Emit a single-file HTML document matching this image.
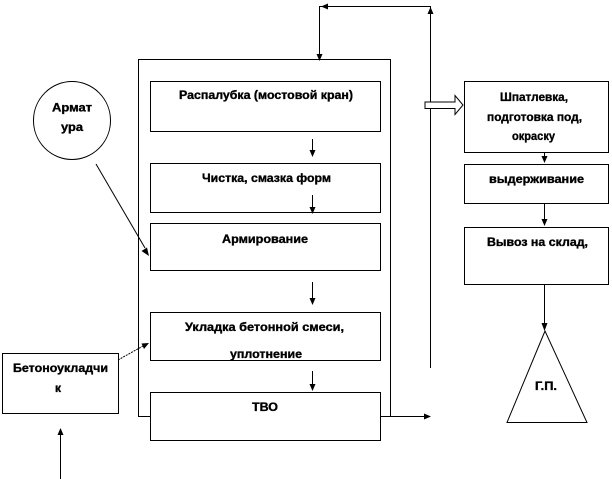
<!DOCTYPE html>
<html><head><meta charset="utf-8"><style>
html,body{margin:0;padding:0;background:#fff;}
svg{display:block;}
text{font-family:"Liberation Sans","Noto Sans CJK SC",sans-serif;font-weight:bold;font-size:12px;fill:#000;stroke:#000;stroke-width:0.35px;}
</style></head><body>
<svg width="612" height="479" viewBox="0 0 612 479" xmlns="http://www.w3.org/2000/svg">
<g stroke="#000" stroke-width="1" fill="none" shape-rendering="crispEdges">
  <rect x="138.5" y="59.5" width="252" height="357" fill="#fff"/>
  <polyline points="430.5,368 430.5,6.5 319.5,6.5 319.5,56"/>
  <line x1="380" y1="416.5" x2="425" y2="416.5"/>
  <rect x="150.5" y="81.5" width="230" height="50" fill="#fff"/>
  <rect x="150.5" y="163.5" width="230" height="49" fill="#fff"/>
  <rect x="150.5" y="223.5" width="230" height="47" fill="#fff"/>
  <rect x="150.5" y="312.5" width="230" height="48" fill="#fff"/>
  <rect x="150.5" y="392.5" width="230" height="48" fill="#fff"/>
  <line x1="312.5" y1="139" x2="312.5" y2="151"/>
  <line x1="312.5" y1="195" x2="312.5" y2="208"/>
  <line x1="312.5" y1="282" x2="312.5" y2="299"/>
  <line x1="312.5" y1="371" x2="312.5" y2="385"/>
  <rect x="464.5" y="81.5" width="144" height="71" fill="#fff"/>
  <rect x="464.5" y="164.5" width="144" height="39" fill="#fff"/>
  <rect x="464.5" y="227.5" width="144" height="57" fill="#fff"/>
  <line x1="544.5" y1="152" x2="544.5" y2="157"/>
  <line x1="544.5" y1="204" x2="544.5" y2="219"/>
  <line x1="544.5" y1="285" x2="544.5" y2="324"/>
  <rect x="2.5" y="353.5" width="116" height="60" fill="#fff"/>
  <line x1="60.5" y1="479" x2="60.5" y2="434"/>
</g>
<g stroke="#000" stroke-width="1" fill="none">
  <ellipse cx="72" cy="120.5" rx="38.5" ry="39" fill="#fff"/>
  <polygon points="545,331 507,422.5 587,422.5" fill="#fff"/>
  <line x1="96" y1="164" x2="145" y2="248"/>
  <line x1="118" y1="360" x2="143" y2="346" stroke-dasharray="2,1"/>
  <polygon points="425,102 455,102 455,95.5 463,105 455,114.5 455,108.5 425,108.5" fill="#fff"/>
</g>
<g fill="#000" stroke="none">
  <polygon points="430.5,7 427.5,14 433.5,14"/>
  <polygon points="321,6.5 328,3.5 328,9.5"/>
  <polygon points="319.5,61 316.5,54 322.5,54"/>
  <polygon points="431,416.5 424,413.5 424,419.5"/>
  <polygon points="312.5,157 309.5,150 315.5,150"/>
  <polygon points="312.5,214 309.5,207 315.5,207"/>
  <polygon points="312.5,305 309.5,298 315.5,298"/>
  <polygon points="312.5,391 309.5,384 315.5,384"/>
  <polygon points="544.5,163 541.5,156 547.5,156"/>
  <polygon points="544.5,226 541.5,219 547.5,219"/>
  <polygon points="544.5,331 541.5,323 547.5,323"/>
  <polygon points="60.5,428 57.5,435 63.5,435"/>
  <polygon points="149,256 141.5,251 147,247.5"/>
  <polygon points="149,343 141.5,343.5 144,349"/>
</g>
<g>
  <text x="179" y="99" textLength="174" lengthAdjust="spacingAndGlyphs">Распалубка (мостовой кран)</text>
  <text x="202" y="182" textLength="129" lengthAdjust="spacingAndGlyphs">Чистка, смазка форм</text>
  <text x="222" y="243" textLength="86" lengthAdjust="spacingAndGlyphs">Армирование</text>
  <text x="185" y="331" textLength="159" lengthAdjust="spacingAndGlyphs">Укладка бетонной смеси,</text>
  <text x="230" y="358" textLength="72" lengthAdjust="spacingAndGlyphs">уплотнение</text>
  <text x="252" y="411" textLength="26" lengthAdjust="spacingAndGlyphs">ТВО</text>
  <text x="52" y="111.5" textLength="40" lengthAdjust="spacingAndGlyphs">Армат</text>
  <text x="61" y="131" textLength="22" lengthAdjust="spacingAndGlyphs">ура</text>
  <text x="13" y="372" textLength="95" lengthAdjust="spacingAndGlyphs">Бетоноукладчи</text>
  <text x="55" y="392" textLength="6" lengthAdjust="spacingAndGlyphs">к</text>
  <text x="500" y="101" textLength="68" lengthAdjust="spacingAndGlyphs">Шпатлевка,</text>
  <text x="487" y="121" textLength="95" lengthAdjust="spacingAndGlyphs">подготовка под,</text>
  <text x="512" y="140" textLength="43" lengthAdjust="spacingAndGlyphs">окраску</text>
  <text x="489" y="183" textLength="95" lengthAdjust="spacingAndGlyphs">выдерживание</text>
  <text x="487" y="246" textLength="101" lengthAdjust="spacingAndGlyphs">Вывоз на склад,</text>
  <text x="535" y="390" textLength="22" lengthAdjust="spacingAndGlyphs">Г.П.</text>
</g>
</svg>
</body></html>
